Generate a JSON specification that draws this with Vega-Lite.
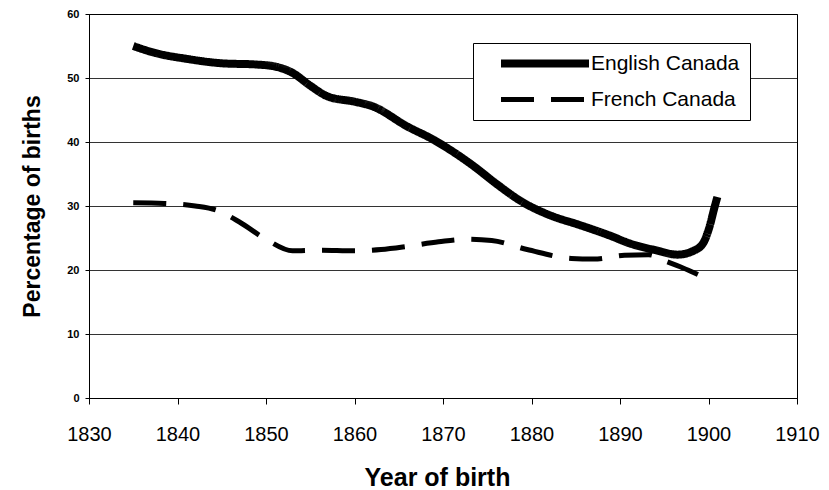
{
  "$schema": "https://vega.github.io/schema/vega-lite/v6.json",
  "width": 708,
  "height": 384,
  "autosize": "none",
  "padding": {"left": 89, "top": 14, "right": 32, "bottom": 92},
  "background": "white",
  "config": {
    "font": "Liberation Sans",
    "view": {"stroke": "black", "strokeWidth": 1}
  },
  "data": {
    "values": [
      {"series": "English Canada", "year": 1835, "pct": 55.0},
      {"series": "English Canada", "year": 1837.5, "pct": 53.9},
      {"series": "English Canada", "year": 1841, "pct": 53.0},
      {"series": "English Canada", "year": 1845, "pct": 52.3},
      {"series": "English Canada", "year": 1849, "pct": 52.1},
      {"series": "English Canada", "year": 1851, "pct": 51.8},
      {"series": "English Canada", "year": 1853, "pct": 50.8},
      {"series": "English Canada", "year": 1855, "pct": 48.8},
      {"series": "English Canada", "year": 1857, "pct": 47.1},
      {"series": "English Canada", "year": 1860, "pct": 46.3},
      {"series": "English Canada", "year": 1862, "pct": 45.6},
      {"series": "English Canada", "year": 1866, "pct": 42.4},
      {"series": "English Canada", "year": 1869, "pct": 40.3},
      {"series": "English Canada", "year": 1871, "pct": 38.6},
      {"series": "English Canada", "year": 1873.5, "pct": 36.2},
      {"series": "English Canada", "year": 1876, "pct": 33.5},
      {"series": "English Canada", "year": 1879, "pct": 30.6},
      {"series": "English Canada", "year": 1882, "pct": 28.6},
      {"series": "English Canada", "year": 1885.5, "pct": 27.0},
      {"series": "English Canada", "year": 1889, "pct": 25.3},
      {"series": "English Canada", "year": 1891, "pct": 24.2},
      {"series": "English Canada", "year": 1894, "pct": 23.1},
      {"series": "English Canada", "year": 1896.5, "pct": 22.4},
      {"series": "English Canada", "year": 1898.3, "pct": 23.0},
      {"series": "English Canada", "year": 1899.4, "pct": 24.2},
      {"series": "English Canada", "year": 1900.1, "pct": 26.7},
      {"series": "English Canada", "year": 1900.7, "pct": 29.9},
      {"series": "English Canada", "year": 1901, "pct": 31.4},
      {"series": "French Canada", "year": 1835, "pct": 30.5},
      {"series": "French Canada", "year": 1838.5, "pct": 30.4},
      {"series": "French Canada", "year": 1842, "pct": 30.0},
      {"series": "French Canada", "year": 1844.5, "pct": 29.3},
      {"series": "French Canada", "year": 1847, "pct": 27.5},
      {"series": "French Canada", "year": 1850, "pct": 24.8},
      {"series": "French Canada", "year": 1853, "pct": 23.0},
      {"series": "French Canada", "year": 1856, "pct": 23.1},
      {"series": "French Canada", "year": 1860, "pct": 23.0},
      {"series": "French Canada", "year": 1863, "pct": 23.2},
      {"series": "French Canada", "year": 1866, "pct": 23.7},
      {"series": "French Canada", "year": 1869.5, "pct": 24.4},
      {"series": "French Canada", "year": 1872.5, "pct": 24.8},
      {"series": "French Canada", "year": 1875.5, "pct": 24.6},
      {"series": "French Canada", "year": 1879.5, "pct": 23.2},
      {"series": "French Canada", "year": 1884.5, "pct": 21.8},
      {"series": "French Canada", "year": 1887, "pct": 21.7},
      {"series": "French Canada", "year": 1890.5, "pct": 22.3},
      {"series": "French Canada", "year": 1893.2, "pct": 22.4},
      {"series": "French Canada", "year": 1895.3, "pct": 21.3},
      {"series": "French Canada", "year": 1896.8, "pct": 20.5},
      {"series": "French Canada", "year": 1898.3, "pct": 19.6},
      {"series": "French Canada", "year": 1900.2, "pct": 18.4}
    ]
  },
  "mark": {"type": "line", "interpolate": "monotone", "strokeCap": "butt"},
  "encoding": {
    "x": {
      "field": "year",
      "type": "quantitative",
      "scale": {"domain": [1830, 1910], "nice": false, "zero": false},
      "axis": {
        "values": [1830, 1840, 1850, 1860, 1870, 1880, 1890, 1900, 1910],
        "format": "d",
        "title": "Year of birth",
        "grid": false,
        "domainColor": "black",
        "tickColor": "black",
        "tickSize": 6,
        "labelColor": "black",
        "labelFontSize": 20,
        "labelPadding": 20,
        "labelFlush": false,
        "titleColor": "black",
        "titleFontSize": 25,
        "titleFontWeight": "bold",
        "titlePadding": 21,
        "titleX": 348
      }
    },
    "y": {
      "field": "pct",
      "type": "quantitative",
      "scale": {"domain": [0, 60], "nice": false},
      "axis": {
        "values": [0, 10, 20, 30, 40, 50, 60],
        "title": "Percentage of births",
        "grid": true,
        "gridColor": "black",
        "gridWidth": 1,
        "gridOpacity": 0.8,
        "domainColor": "black",
        "tickColor": "black",
        "tickSize": 4,
        "labelColor": "black",
        "labelFontSize": 11,
        "labelFontWeight": "bold",
        "labelPadding": 6,
        "labelFlush": false,
        "titleColor": "black",
        "titleFontSize": 23,
        "titleFontWeight": "bold",
        "titlePadding": 22
      }
    },
    "color": {
      "field": "series",
      "type": "nominal",
      "scale": {"domain": ["English Canada", "French Canada"], "range": ["black", "black"]},
      "legend": {
        "orient": "none",
        "legendX": 384,
        "legendY": 29,
        "title": null,
        "symbolType": "M1.364,0H17.364",
        "symbolSize": 121,
        "labelFontSize": 21,
        "labelColor": "black",
        "labelOffset": 87,
        "strokeColor": "black",
        "fillColor": "white",
        "padding": 10,
        "rowPadding": 8
      }
    },
    "strokeDash": {
      "field": "series",
      "type": "nominal",
      "scale": {"domain": ["English Canada", "French Canada"], "range": [[1, 0], [33, 17]]}
    },
    "strokeWidth": {
      "field": "series",
      "type": "nominal",
      "scale": {"domain": ["English Canada", "French Canada"], "range": [8, 5]}
    }
  }
}
